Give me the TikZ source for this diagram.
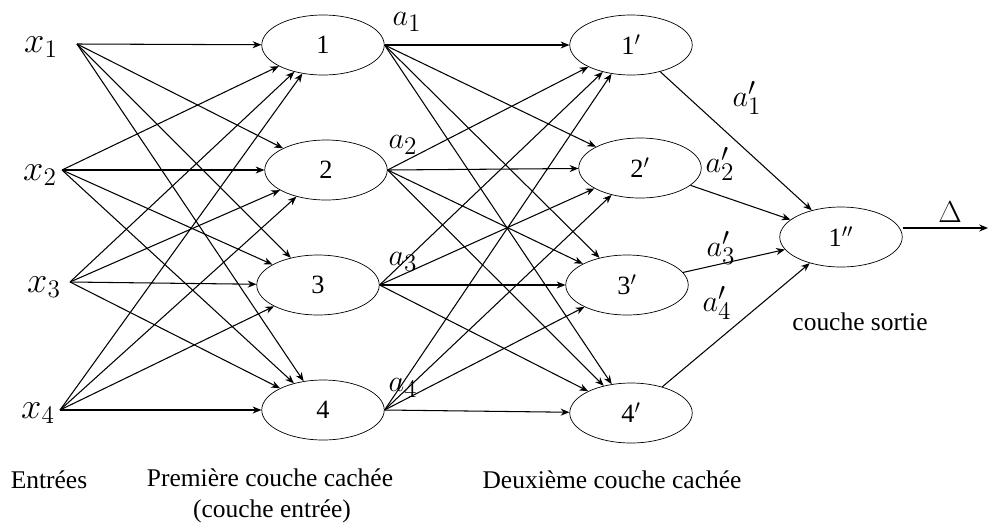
\documentclass[tikz,border=0pt]{standalone}
\usepackage{fontspec}
\setmainfont{Liberation Serif}
\usetikzlibrary{shapes.geometric,arrows.meta}
\begin{document}
\begin{tikzpicture}[x=0.02cm,y=-0.02cm,
  neuron/.style={draw,ellipse,minimum width=2.45cm,minimum height=1.2cm,inner sep=0pt,font=\fontsize{15}{17}\selectfont},
  conn/.style={-{Stealth[length=5pt,width=4pt]},line width=0.6pt},
  inlab/.style={font=\fontsize{21}{23}\selectfont},
  alab/.style={font=\fontsize{19}{21}\selectfont},
  caption/.style={font=\fontsize{14.5}{16}\selectfont,align=center}]
\useasboundingbox (0,0) rectangle (988,525);
% inputs
\coordinate (i1) at (77,44);
\coordinate (i2) at (62,170);
\coordinate (i3) at (70,282);
\coordinate (i4) at (60,410);
\node[inlab] (x1) at (41,47) {$x_1$};
\node[inlab] (x2) at (40,175) {$x_2$};
\node[inlab] (x3) at (44,287) {$x_3$};
\node[inlab] (x4) at (38,413) {$x_4$};
% first hidden layer
\node[neuron] (h1) at (323,45) {1};
\node[neuron] (h2) at (326,170) {2};
\node[neuron] (h3) at (318,285) {3};
\node[neuron] (h4) at (323,410) {4};
% second hidden layer
\node[neuron] (g1) at (631,45) {1$'$};
\node[neuron] (g2) at (640,168) {2$'$};
\node[neuron] (g3) at (627,285) {3$'$};
\node[neuron] (g4) at (631,413) {4$'$};
% output
\node[neuron] (o) at (841,237) {1$''$};
\coordinate (out) at (988,228);
% connections input -> layer 1
\foreach \i in {1,2,3,4}{
  \foreach \j in {1,2,3,4}{
    \draw[conn] (i\i) -- (h\j);
  }
}
% connections layer 1 -> layer 2
\foreach \i in {1,2,3,4}{
  \foreach \j in {1,2,3,4}{
    \draw[conn] (h\i.east) -- (g\j);
  }
}
% layer 2 -> output
\foreach \j in {1,2,3,4}{
  \draw[conn] (g\j) -- (o);
}
\draw[conn] (o.east |- out) -- (out);
% labels
\node[alab] (la1) at (407,22) {$a_1$};
\node[alab] (la2) at (403,145) {$a_2$};
\node[alab] (la3) at (403,262) {$a_3$};
\node[alab] (la4) at (403,388) {$a_4$};
\node[alab] (lb1) at (747,98) {$a'_1$};
\node[alab] (lb2) at (720,164) {$a'_2$};
\node[alab] (lb3) at (721,248) {$a'_3$};
\node[alab] (lb4) at (717,303) {$a'_4$};
\node[alab] (delta) at (950,212) {$\Delta$};
\node[caption] (cs) at (860,322) {couche sortie};
\node[caption] (ce) at (49,480) {Entrées};
\node[caption] (cp) at (270,478) {Première couche cachée};
\node[caption] (cpe) at (272,511) {(couche entrée)};
\node[caption] (cd) at (612,480) {Deuxième couche cachée};
\end{tikzpicture}
\end{document}
